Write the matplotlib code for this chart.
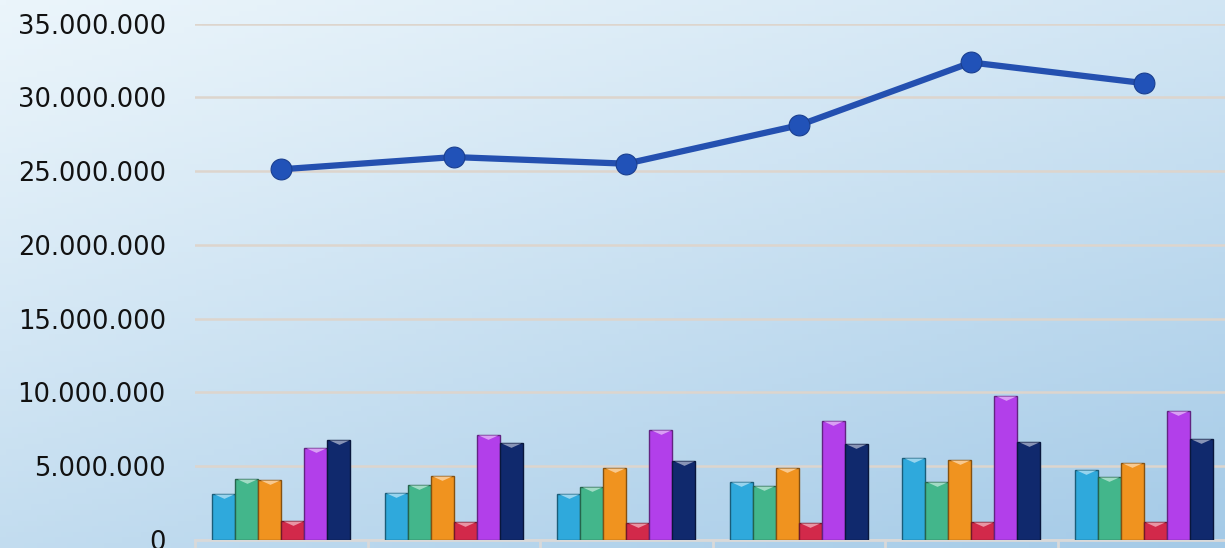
"""
Gruppierte Säulen + Summenlinie (Nachbau)
"""

import numpy as np
import matplotlib.pyplot as plt
from matplotlib.path import Path
from matplotlib.colors import to_rgb
from matplotlib.ticker import FuncFormatter

plt.rcParams['font.family'] = ['DejaVu Sans']

# Werte
groups = ['1', '2', '3', '4', '5', '6']
serie_cyan = [3.09e6, 3.16e6, 3.13e6, 3.95e6, 5.59e6, 4.73e6]
serie_gruen = [4.13e6, 3.70e6, 3.58e6, 3.68e6, 3.95e6, 4.27e6]
serie_orange = [4.06e6, 4.31e6, 4.89e6, 4.89e6, 5.43e6, 5.25e6]
serie_rot = [1.27e6, 1.20e6, 1.12e6, 1.12e6, 1.21e6, 1.21e6]
serie_lila = [6.21e6, 7.11e6, 7.44e6, 8.06e6, 9.73e6, 8.77e6]
serie_navy = [6.75e6, 6.59e6, 5.34e6, 6.48e6, 6.67e6, 6.83e6]
summe = [25.12e6, 25.95e6, 25.50e6, 28.10e6, 32.36e6, 30.96e6]

y_ticks = [0, 5e6, 10e6, 15e6, 20e6, 25e6, 30e6, 35e6]

series = [serie_cyan, serie_gruen, serie_orange, serie_rot, serie_lila, serie_navy]
colors = ['#2fa9dc', '#43b68b', '#f0931f', '#d2294a', '#b23fea', '#10296d']


def shade(c, f):
    r, g, b = to_rgb(c)
    if f < 1:
        return (r * f, g * f, b * f)
    return (r + (1 - r) * (f - 1), g + (1 - g) * (f - 1), b + (1 - b) * (f - 1))


def dotted(v, pos):
    return f"{int(round(v)):,}".replace(',', '.')


def make_background(fig):
    bg = fig.add_axes([0, 0, 1, 1], zorder=-10)
    ny, nx = 100, 200
    yy, xx = np.mgrid[0:1:ny * 1j, 0:1:nx * 1j]
    t = np.clip(0.6 * yy + 0.4 * xx, 0, 1) ** 1.1
    c0 = np.array(to_rgb('#ebf5fb'))
    c1 = np.array(to_rgb('#a4cae7'))
    img = c0[None, None, :] * (1 - t[..., None]) + c1[None, None, :] * t[..., None]
    bg.imshow(img, aspect='auto', extent=[0, 1, 0, 1], origin='upper')
    bg.axis('off')


def main():
    fig = plt.figure(figsize=(12.25, 5.48), dpi=100)
    make_background(fig)

    ax = fig.add_axes([195 / 1225, 8 / 548, 1035 / 1225, 516.5 / 548])
    ax.patch.set_alpha(0)

    x = np.arange(len(groups))
    n = len(series)
    width = 0.8 / n
    tri = Path([(-1, 0), (1, 0), (0, -0.45), (-1, 0)],
               [Path.MOVETO, Path.LINETO, Path.LINETO, Path.CLOSEPOLY])

    for i, (vals, col) in enumerate(zip(series, colors)):
        pos = x + (i - (n - 1) / 2) * width
        ax.bar(pos, vals, width=width, color=col,
               edgecolor=shade(col, 0.55), linewidth=1.0, zorder=3)
        ax.plot(pos, vals, linestyle='none', marker=tri, markersize=14,
                markerfacecolor=shade(col, 1.5), markeredgewidth=0, zorder=4)

    # Summenlinie mit Kugel-Markern
    ax.plot(x, summe, color='#2450b0', linewidth=4.5, zorder=5, solid_capstyle='round')
    ax.plot(x, summe, linestyle='none', zorder=6,
            marker='o', markersize=15, markerfacecolor='#2152b8',
            markeredgecolor='#1a3f90', markeredgewidth=0.8)

    ax.set_xlim(-0.5, len(groups) - 0.5)
    ax.set_ylim(0, 35e6)
    ax.set_yticks(y_ticks)
    ax.yaxis.set_major_formatter(FuncFormatter(dotted))
    ax.tick_params(axis='y', length=0, pad=21, labelsize=18.5, labelcolor='#111111')
    ax.grid(axis='y', color='#ddd5cd', linewidth=1.8, zorder=0)

    ax.set_xticks(np.arange(len(groups) + 1) - 0.5)
    ax.set_xticklabels([])
    ax.tick_params(axis='x', direction='out', length=14, width=2, color='#d9d9d9')

    for s in ['top', 'right', 'left']:
        ax.spines[s].set_visible(False)
    ax.spines['bottom'].set_color('#d9d9d9')
    ax.spines['bottom'].set_linewidth(2)
    ax.set_axisbelow(True)

    plt.savefig('out.png', dpi=100)


if __name__ == "__main__":
    main()
